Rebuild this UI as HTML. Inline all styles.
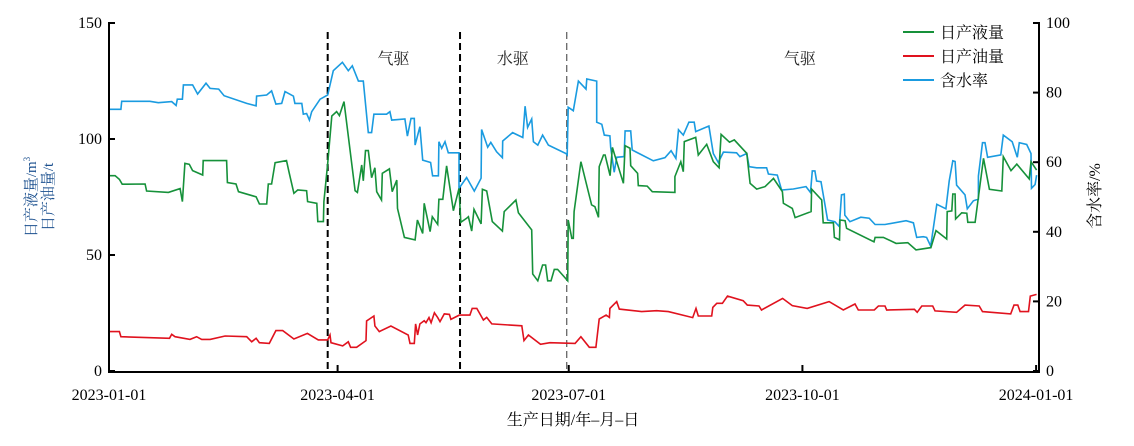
<!DOCTYPE html>
<html><head><meta charset="utf-8">
<style>
body{margin:0;background:#fff;}
svg text{font-family:"Liberation Serif","Noto Serif CJK SC",serif;}
</style></head>
<body>
<svg id="chart" width="1134" height="441" viewBox="0 0 1134 441" xmlns="http://www.w3.org/2000/svg">
<g id="grid"></g>
</svg>
<script>
// ---- data (day of year 2023, values) ----
const tickDates = ["2023-01-01","2023-04-01","2023-07-01","2023-10-01","2024-01-01"];
const tickDays = [0, 90, 181, 273, 365];
const leftTicks = [0, 50, 100, 150];
const rightTicks = [0, 20, 40, 60, 80, 100];
const phaseDays = [86.1, 138.2, 180.2];
const phaseLabels = ["气驱","水驱","气驱"];
const phaseLabelDays = [112, 159, 272];

const liqDays = [0.1,2.4,4.1,5.2,14.2,14.8,23.4,28.0,28.9,29.9,31.6,32.9,36.9,37.1,46.3,46.6,50.0,51.0,57.9,59.2,62.1,62.7,64.0,65.4,69.9,71.0,72.8,74.3,77.8,78.2,81.8,82.2,84.4,84.6,86.1,87.7,89.6,90.7,92.5,96.9,97.8,99.5,100.1,101.0,102.1,103.4,104.7,105.4,107.3,107.6,110.4,111.5,113.3,113.6,116.3,120.5,121.4,123.5,124.1,126.4,127.3,129.4,129.9,131.4,132.9,135.6,137.8,138.5,140.8,141.5,142.8,143.7,146.5,147.0,148.7,150.9,154.9,155.6,160.2,161.2,166.4,166.8,168.8,170.7,171.9,172.7,174.0,175.3,176.6,180.6,180.8,182.2,182.8,183.1,185.8,190.0,191.3,192.7,193.0,194.7,195.3,197.3,198.2,199.5,202.5,203.2,205.1,205.4,208.1,208.4,211.9,213.9,222.8,222.8,225.1,226.1,226.5,231.0,232.0,235.3,237.9,240.2,241.0,244.3,246.2,251.1,252.4,255.0,258.3,261.6,265.1,265.5,269.0,270.1,276.4,276.6,280.6,281.2,285.2,285.6,287.6,287.8,289.8,290.4,301.2,301.6,304.9,309.9,314.5,317.7,323.6,325.6,329.8,330.0,331.8,332.2,333.1,333.3,335.7,337.7,338.1,341.0,344.3,346.6,351.5,352.1,355.1,357.4,362.3,363.0,365.2];
const liqVals = [84.2,84.2,82.6,80.5,80.6,77.6,77.0,78.6,73.0,89.5,89.1,86.4,84.5,90.7,90.7,81.2,80.6,77.3,75.1,72.0,72.0,80.6,80.6,89.8,90.7,85.2,76.6,78.0,77.7,73.0,72.3,64.4,64.4,73.0,89.5,109.9,111.8,110.1,116.1,77.7,77.0,88.8,82.0,95.0,95.0,83.3,87.6,77.3,73.7,85.2,87.1,77.3,82.3,70.1,57.6,56.5,65.1,59.3,72.3,60.1,66.5,63.2,74.0,74.0,88.4,69.1,78.7,64.1,65.8,66.5,60.3,69.7,63.4,78.3,77.6,64.4,60.3,68.7,73.7,68.2,60.8,41.8,38.9,45.7,45.7,38.9,38.9,43.8,43.8,38.9,65.1,57.2,57.2,68.7,90.2,71.6,70.8,66.2,88.1,93.1,93.1,84.2,96.4,91.7,80.9,97.1,96.0,88.5,85.2,79.9,79.7,77.3,77.0,83.8,90.2,85.9,98.9,100.7,93.1,97.7,90.2,87.6,102.0,98.6,99.6,93.8,80.9,78.4,79.5,83.0,77.3,72.3,70.1,66.1,68.7,78.4,73.7,63.9,63.9,57.6,56.5,65.1,64.8,61.5,55.7,57.6,57.6,55.0,55.3,52.2,53.2,60.5,56.9,68.7,69.0,76.3,76.3,65.5,68.2,68.0,64.1,64.1,91.7,78.3,77.6,92.4,86.4,89.2,82.8,90.2,86.6];

const oilDays = [0.1,4.1,4.7,23.8,24.7,26.0,31.9,34.5,36.5,39.8,45.7,54.2,56.2,57.9,59.2,63.1,65.7,68.4,72.8,78.1,82.4,86.1,87.0,87.4,92.0,94.2,95.1,97.5,101.2,101.4,104.3,104.7,106.4,111.0,117.8,118.5,120.2,120.7,121.5,122.4,124.1,124.8,126.0,126.8,128.1,129.4,130.3,132.0,134.0,134.6,137.9,142.1,143.0,144.8,147.4,148.7,150.7,162.5,163.4,165.1,169.9,173.6,183.5,185.8,189.1,191.7,193.0,195.7,197.0,197.2,199.9,200.9,209.7,215.6,220.2,229.8,231.1,232.0,237.3,237.7,239.3,241.5,243.5,249.7,251.3,255.9,256.9,265.2,269.0,274.9,283.5,289.1,293.7,295.0,301.3,302.9,305.5,306.2,317.1,318.2,320.0,324.3,325.2,333.7,337.0,342.6,343.9,355.0,356.3,357.8,358.7,362.0,362.7,365.2];
const oilVals = [17.0,17.0,14.8,14.1,15.8,14.8,13.6,14.8,13.6,13.6,15.1,14.8,12.6,14.1,12.2,11.9,17.4,17.4,13.8,16.2,13.4,13.4,15.5,12.2,10.8,12.6,10.2,10.2,13.1,21.6,23.7,19.4,17.0,19.4,15.5,11.9,11.9,20.3,15.5,20.3,21.7,20.8,23.0,20.8,25.1,23.0,21.3,24.6,24.4,22.3,24.1,24.1,27.0,27.0,22.0,23.1,20.3,19.5,13.1,15.5,11.5,12.2,11.9,14.8,10.2,10.2,22.4,24.1,23.1,27.0,29.9,26.7,25.6,26.0,25.6,23.0,27.0,23.7,23.7,27.4,29.2,29.2,32.3,30.3,28.4,28.0,26.3,31.3,28.2,27.0,29.9,26.3,28.9,26.3,26.3,28.0,28.0,26.3,26.6,25.3,28.0,28.0,25.9,25.3,28.4,28.0,25.6,24.6,28.4,28.4,25.6,25.6,32.3,33.0];

const wcDays = [0.1,4.7,5.0,16.1,19.4,24.7,26.4,26.9,28.9,29.3,32.9,34.9,38.2,39.8,43.2,45.3,54.2,57.9,58.1,62.1,64.0,65.7,68.0,69.3,72.6,73.2,75.9,76.5,77.8,78.9,79.8,83.1,86.1,88.3,91.9,94.2,95.8,98.2,100.1,102.1,103.4,104.3,109.3,110.6,111.3,116.5,117.5,118.9,120.2,120.5,122.4,123.5,126.6,127.4,129.7,129.9,131.0,132.3,133.6,137.8,137.8,140.8,143.8,146.5,146.7,149.1,150.3,152.6,154.9,155.0,158.9,162.9,163.8,164.8,166.4,167.1,168.8,170.7,173.0,179.9,180.4,180.8,182.8,184.8,187.8,188.1,192.0,192.0,194.0,195.0,197.2,197.5,198.9,199.9,202.8,203.2,205.4,206.0,214.3,218.9,221.3,223.2,224.2,226.1,228.3,230.4,231.0,236.2,237.9,239.9,241.9,247.1,248.4,251.1,252.0,255.0,258.9,259.6,263.1,264.8,269.4,274.4,276.2,276.9,277.9,278.6,280.3,282.9,285.8,287.5,288.4,289.5,289.7,291.7,296.0,299.3,301.6,305.5,313.8,316.7,318.0,320.6,321.9,323.5,325.9,329.5,330.8,332.2,333.1,333.7,337.0,337.9,340.3,342.3,342.3,343.9,344.9,345.9,351.1,352.1,355.6,357.6,358.4,361.3,363.0,363.2,364.6,365.2];
const wcVals = [75.2,75.2,77.5,77.5,77.1,77.4,76.3,78.1,78.1,82.2,82.2,79.6,82.7,81.2,81.0,79.1,76.9,76.2,79.0,79.3,80.5,76.7,76.9,80.3,79.0,76.9,76.9,73.8,74.0,72.1,74.5,78.1,79.3,86.3,88.7,86.3,87.7,83.3,83.3,68.5,68.5,73.8,73.8,74.5,72.1,72.4,67.5,72.6,72.6,64.9,70.2,60.6,59.9,56.1,56.1,65.9,64.0,65.9,62.7,62.7,52.5,55.6,51.7,55.4,69.4,64.3,65.7,63.0,61.3,66.1,68.5,67.1,76.1,70.0,72.4,65.9,64.9,67.8,64.9,62.5,62.1,75.8,74.8,83.3,81.0,83.9,83.3,71.5,70.9,67.8,67.6,64.2,57.1,61.4,61.6,69.0,69.0,63.5,60.4,61.3,63.3,61.1,69.3,67.8,71.5,71.5,68.8,70.4,62.5,59.9,62.9,62.7,61.6,62.5,58.7,58.4,58.4,56.6,56.3,52.0,52.3,53.0,51.3,57.5,57.5,54.6,54.4,43.4,42.9,41.5,50.6,50.8,44.8,42.9,44.2,43.9,42.1,42.1,43.2,42.6,38.4,38.6,38.4,35.9,47.9,46.6,54.6,60.4,60.2,53.4,50.6,46.6,48.9,49.4,56.0,65.6,65.6,61.4,62.1,67.8,65.9,61.4,65.6,65.1,62.5,52.5,53.6,56.3];

// ---- axes ----
const X0 = 109, XPD = 2.54, Y0 = 371;
const xScale = d => X0 + d * XPD;
const yL = v => Y0 - v * (348 / 150);
const yR = v => Y0 - v * (348 / 100);
const NS = "http://www.w3.org/2000/svg";
const svg = document.getElementById("chart");
function mk(tag, attrs, parent) {
  const e = document.createElementNS(NS, tag);
  for (const k in attrs) e.setAttribute(k, attrs[k]);
  (parent || svg).appendChild(e);
  return e;
}
function txt(s, attrs) { const t = mk("text", attrs); t.textContent = s; return t; }

// phase dividers
phaseDays.forEach((d, i) => {
  const l = mk("line", {x1: xScale(d), x2: xScale(d), y1: 32, y2: Y0, stroke: i === 2 ? "#666" : "#000", "stroke-width": i === 2 ? 1.3 : 2, "stroke-dasharray": "7,4"});
  
  
});
phaseLabels.forEach((s, i) => {
  const t = txt(s, {x: xScale(phaseLabelDays[i]), y: 64, "font-size": 16, "text-anchor": "middle", fill: "#222"});
  
  
});

// series
function series(days, vals, yf, color, name) {
  const pts = days.map((d, i) => xScale(d).toFixed(1) + "," + yf(vals[i]).toFixed(1)).join(" ");
  const p = mk("polyline", {points: pts, fill: "none", stroke: color, "stroke-width": 1.6, "stroke-linejoin": "miter"});
  
  
}
series(wcDays, wcVals, yR, "#1a9be0", "water-cut-line");
series(liqDays, liqVals, yL, "#16913a", "liquid-production-line");
series(oilDays, oilVals, yL, "#e0121e", "oil-production-line");

// axes frame
const ax = mk("path", {d: `M${X0},22 V${Y0+1} H1039 V22`, fill: "none", stroke: "#000", "stroke-width": 2});



leftTicks.forEach(v => {
  const tk = mk("line", {x1: X0, x2: X0 + 6, y1: yL(v), y2: yL(v), stroke: "#000", "stroke-width": 2});
  
  
  const t = txt(String(v), {x: X0 - 7, y: yL(v) + 5, "font-size": 16, "text-anchor": "end"});
  
  
});
rightTicks.forEach(v => {
  const tk = mk("line", {x1: 1033, x2: 1039, y1: yR(v), y2: yR(v), stroke: "#000", "stroke-width": 2});
  
  
  const t = txt(String(v), {x: 1046, y: yR(v) + 5, "font-size": 16});
  
  
});
tickDays.forEach((d, i) => {
  const tk = mk("line", {x1: xScale(d), x2: xScale(d), y1: Y0 + 1, y2: Y0 - 6, stroke: "#000", "stroke-width": 2});
  
  
  const t = txt(tickDates[i], {x: xScale(d), y: 400, "font-size": 16, "text-anchor": "middle"});
  
  
});
</script>
<svg style="position:absolute;left:0;top:0" width="1134" height="441">
  <text x="573" y="425" font-size="16" text-anchor="middle" font-family="Liberation Serif, Noto Serif CJK SC, serif">生产日期/年–月–日</text>
  <text transform="translate(36,197) rotate(-90)" font-size="15" text-anchor="middle" fill="#1a4f8e" font-family="Liberation Serif, Noto Serif CJK SC, serif">日产液量/m<tspan font-size="9" dy="-6">3</tspan></text>
  <text transform="translate(53,197) rotate(-90)" font-size="15" text-anchor="middle" fill="#1a4f8e" font-family="Liberation Serif, Noto Serif CJK SC, serif">日产油量/t</text>
  <text transform="translate(1100,196) rotate(-90)" font-size="16" text-anchor="middle" font-family="Liberation Serif, Noto Serif CJK SC, serif">含水率/%</text>
  <g font-family="Liberation Serif, Noto Serif CJK SC, serif" font-size="16">
    <line x1="903" x2="934" y1="32" y2="32" stroke="#16913a" stroke-width="2"/>
    <text x="940" y="38">日产液量</text>
    <line x1="903" x2="934" y1="56" y2="56" stroke="#e0121e" stroke-width="2"/>
    <text x="940" y="62">日产油量</text>
    <line x1="903" x2="934" y1="80" y2="80" stroke="#1a9be0" stroke-width="2"/>
    <text x="940" y="86">含水率</text>
  </g>
</svg>
</body></html>
